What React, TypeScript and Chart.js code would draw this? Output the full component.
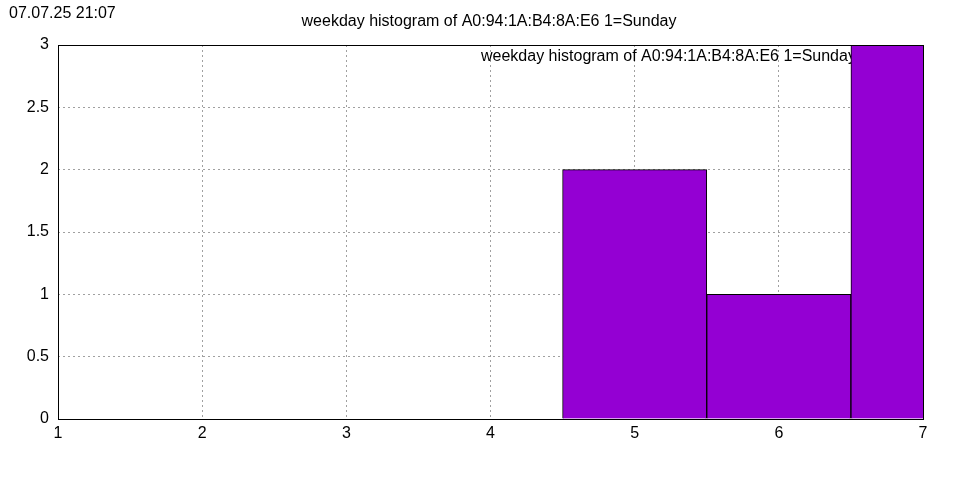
import React, { useEffect, useRef } from "react";
import { Chart, registerables } from "chart.js";

Chart.register(...registerables);

const weekdays = [5, 6, 7];
const counts = [2, 1, 3];
const xTicks = [1, 2, 3, 4, 5, 6, 7];
const yTicks = [0, 0.5, 1, 1.5, 2, 2.5, 3];
const titleText = "weekday histogram of A0:94:1A:B4:8A:E6 1=Sunday";
const timestamp = "07.07.25 21:07";

const FONT = "'Liberation Sans', Arial, sans-serif";

export default function App() {
  const ref = useRef<HTMLCanvasElement | null>(null);
  useEffect(() => {
    document.body.style.margin = "0";
    const canvas = ref.current!;
    const overlay = {
      id: "overlay",
      beforeDatasetsDraw(chart: any) {
        const ctx = chart.ctx;
        ctx.save();
        ctx.fillStyle = "#000";
        ctx.font = `16px ${FONT}`;
        ctx.textBaseline = "middle";
        ctx.textAlign = "left";
        ctx.fillText(titleText, 481, 57);
        ctx.restore();
      },
      afterDraw(chart: any) {
        const ctx = chart.ctx;
        ctx.save();
        ctx.fillStyle = "#000";
        ctx.textBaseline = "middle";
        ctx.font = `16px ${FONT}`;
        ctx.textAlign = "left";
        ctx.fillText(timestamp, 9, 14);
        ctx.textAlign = "center";
        ctx.fillText(titleText, 489, 22);
        const a = chart.chartArea;
        ctx.strokeStyle = "#000";
        ctx.lineWidth = 1;
        ctx.strokeRect(Math.round(a.left) + 0.5, Math.round(a.top) + 0.5, Math.round(a.right - a.left), Math.round(a.bottom - a.top));
        ctx.restore();
      },
    };
    const chart = new Chart(canvas, {
      type: "bar",
      data: {
        datasets: [
          {
            label: titleText,
            data: weekdays.map((d, i) => ({ x: d, y: counts[i] })),
            backgroundColor: "#9400d3",
            borderColor: "#000",
            borderWidth: 1,
            borderSkipped: "bottom",
            barPercentage: 1,
            categoryPercentage: 1,
          },
        ],
      },
      options: {
        animation: false,
        responsive: false,
        devicePixelRatio: 1,
        layout: { padding: { top: 45, right: 37, left: 0, bottom: 0 } },
        plugins: { legend: { display: false }, title: { display: false }, tooltip: { enabled: false } },
        scales: {
          x: {
            type: "linear",
            min: 1,
            max: 7,
            offset: false,
            afterBuildTicks: (s: any) => { s.ticks = xTicks.map((v) => ({ value: v })); },
            afterFit: (s: any) => { s.height = 61; },
            ticks: { color: "#000", font: { family: FONT, size: 16 }, padding: 5, maxRotation: 0, callback: (v: any) => String(v) },
            grid: { color: "#a0a0a0", drawTicks: false, offset: false },
            border: { display: false, dash: [2, 3] },
          },
          y: {
            min: 0,
            max: 3,
            afterBuildTicks: (s: any) => { s.ticks = yTicks.map((v) => ({ value: v })); },
            afterFit: (s: any) => { s.width = 58; },
            ticks: { color: "#000", font: { family: FONT, size: 16 }, padding: 9, callback: (v: any) => String(v) },
            grid: { color: "#a0a0a0", drawTicks: false },
            border: { display: false, dash: [2, 3] },
          },
        },
      },
      plugins: [overlay],
    } as any);
    return () => chart.destroy();
  }, []);
  return <canvas ref={ref} width={960} height={480} style={{ display: "block", width: 960, height: 480 }} />;
}
